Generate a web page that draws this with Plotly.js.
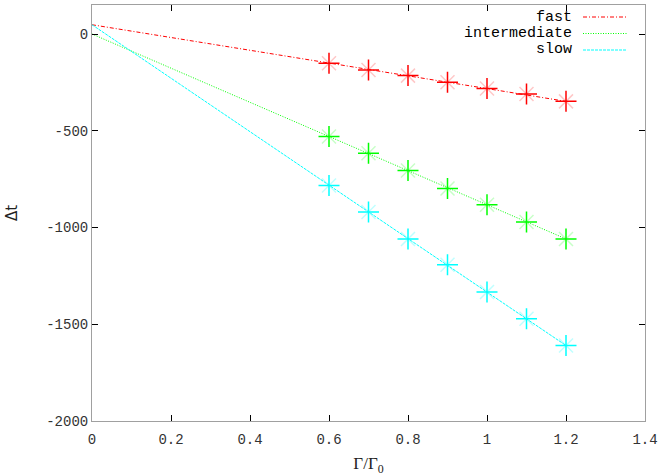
<!DOCTYPE html>
<html>
<head>
<meta charset="utf-8">
<script src="https://cdn.plot.ly/plotly-3.0.1.min.js"></script>
<style>html,body{margin:0;padding:0;background:#fff;}#chart{width:659px;height:476px;}</style>
</head>
<body>
<div id="chart"></div>
<script>
// ---- data ----
var seriesNames = ["fast", "intermediate", "slow"];
var xPoints = [0.6, 0.7, 0.8, 0.9, 1.0, 1.1, 1.2];
var fastY = [-151, -186, -215, -249, -282, -310, -348];
var intermediateY = [-530, -616, -705, -798, -882, -972, -1059];
var slowY = [-783, -920, -1059, -1192, -1333, -1472, -1610];
var fitX = [0, 1.2];
var fastFit = [48, -348];
var intermediateFit = [0, -1059];
var slowFit = [48, -1610];
var xTickVals = [0, 0.2, 0.4, 0.6, 0.8, 1, 1.2, 1.4];
var xTickLabels = ["0", "0.2", "0.4", "0.6", "0.8", "1", "1.2", "1.4"];
var yTickVals = [-2000, -1500, -1000, -500, 0];
var yTickLabels = ["-2000", "-1500", "-1000", "-500", "0"];

// ---- styles ----
var colors = ["#ff0000", "#00ff00", "#00ffff"];
var faded = ["rgba(255,0,0,0.22)", "rgba(0,255,0,0.22)", "rgba(0,255,255,0.25)"];
var dashes = ["4px,2px,1px,2px", "1px,1.5px", "3px,1px"];
var ys = [fastY, intermediateY, slowY];
var fits = [fastFit, intermediateFit, slowFit];

var traces = [];
for (var i = 0; i < 3; i++) {
  traces.push({x: fitX, y: fits[i], mode: "lines", line: {color: colors[i], width: 1, dash: dashes[i]}, showlegend: false, hoverinfo: "skip"});
  traces.push({x: xPoints, y: ys[i], mode: "markers", marker: {symbol: "x-thin-open", size: 14, color: faded[i], line: {color: faded[i], width: 1.5}}, showlegend: false});
  traces.push({x: xPoints, y: ys[i], mode: "markers", marker: {symbol: "cross-thin-open", size: 15, color: colors[i], line: {color: colors[i], width: 1.5}}, showlegend: false});
}

var mono = "Liberation Mono, Courier New, monospace";
var annotations = [];
var shapes = [];
var legendY = [17, 33.5, 50];
for (var j = 0; j < 3; j++) {
  var yp = 1 - (legendY[j] - 5) / (421 - 5);
  annotations.push({xref: "paper", yref: "paper", x: (574 - 92) / (645 - 92), y: yp, xanchor: "right", yanchor: "middle",
    text: seriesNames[j], showarrow: false, font: {family: mono, size: 15, color: "#000"}});
  shapes.push({type: "line", xref: "paper", yref: "paper", x0: (583 - 92) / (645 - 92), x1: (627 - 92) / (645 - 92), y0: yp, y1: yp,
    line: {color: colors[j], width: 1, dash: dashes[j]}});
}

var layout = {
  width: 659, height: 476,
  margin: {l: 92, r: 14, t: 5, b: 55},
  paper_bgcolor: "#fff", plot_bgcolor: "#fff",
  showlegend: false,
  xaxis: {
    range: [0, 1.4], tickvals: xTickVals, ticktext: xTickLabels,
    showgrid: false, zeroline: false, showline: true, linecolor: "#a0a0a0", linewidth: 1,
    mirror: "ticks", ticks: "inside", ticklen: 6, tickcolor: "#000", tickwidth: 1,
    ticklabelstandoff: 5,
    tickfont: {family: mono, size: 14, color: "#333"},
    title: {text: "Γ/Γ<sub>0</sub>", font: {family: "Liberation Serif, serif", size: 17, color: "#222"}, standoff: 10}
  },
  yaxis: {
    range: [-2000, 150], tickvals: yTickVals, ticktext: yTickLabels,
    showgrid: false, zeroline: false, showline: true, linecolor: "#a0a0a0", linewidth: 1,
    mirror: "ticks", ticks: "inside", ticklen: 6, tickcolor: "#000", tickwidth: 1,
    tickfont: {family: mono, size: 14, color: "#333"},
    title: {text: "Δt", font: {family: "DejaVu Sans, sans-serif", size: 15, color: "#222"}, standoff: 24}
  },
  annotations: annotations,
  shapes: shapes
};

Plotly.newPlot("chart", traces, layout, {displayModeBar: false, staticPlot: true});
</script>
</body>
</html>
